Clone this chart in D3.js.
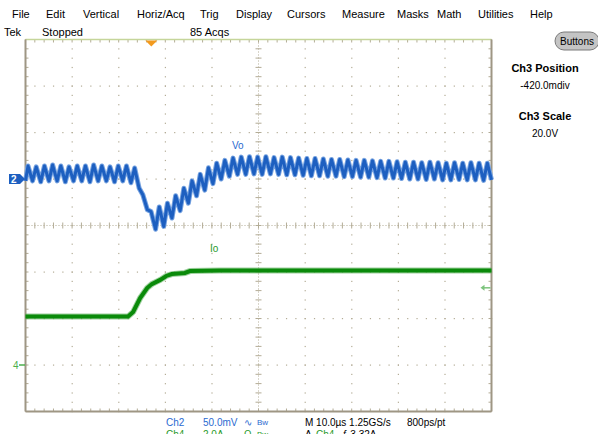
<!DOCTYPE html>
<html><head><meta charset="utf-8">
<script src="https://cdn.jsdelivr.net/npm/d3@7"></script>
<style>
html,body{margin:0;padding:0;background:#fff;overflow:hidden;}
svg{display:block;font-family:"Liberation Sans",Arial,sans-serif;}
</style></head><body>
<svg id="scope" width="598" height="434"></svg>
<script>
// ---- acquisition data ----
// Ch2 (Vo): ripple peak and trough of each switching cycle, mV about the Ch2 reference
const ripplePeriod = 1.76;   // µs
const rippleStart = 0.54;    // µs, first ripple peak
const voPeak = [14,13,14,15,14,13,14,14,15,14,13,14,14,
  11.8,-17,-35,-30,-26,-18,-10,-2,5,12,17,20,22.5,
  23.5,24,23.5,24,23,23.5,23,22.5,
  22,22,21.5,21,21,20.5,20,20,19.5,19,19,18.5,
  18,18,17.5,18,17.5,17,17.5,17,17.5,17,17];
const voTrough = [-2,-3,-2,-2,-3,-2,-2,-3,-2,-2,-3,-2,-4,
  -10,-33,-54,-51,-42,-34,-26,-18,-12,-5,0,3,5,
  5,5.5,5,5.5,5,4.5,4.5,4,
  3.5,3.5,3,3,2.5,2.5,2,2,1.5,1,1,0.5,
  0,0,-0.5,0,-1,-1,-0.5,-1,-1,-1.5,-1];
// Ch4 (Io): load current step, µs / A
const ioTime = [0,22.0,23.1,24.6,26.1,27.1,28.9,30.2,31.4,34.2,35.3,41.7,100];
const ioAmps = [2.09,2.09,2.28,2.88,3.31,3.48,3.66,3.83,3.91,3.96,4.04,4.06,4.06];

// ---- scope settings ----
const menuItems = ["File","Edit","Vertical","Horiz/Acq","Trig","Display","Cursors","Measure","Masks","Math","Utilities","Help"];
const menuX = [12,46,83,137,200,236,287,342,397,437,478,530];
const ch2 = {scale:50, refDiv:1};     // mV/div, reference marker position (div)
const ch4 = {scale:2, refDiv:-3};     // A/div
const timePerDiv = 10;                // µs/div
const trigTime = 27.0;                // µs
const trigLevel = 3.32;               // A

const svg = d3.select("#scope");
const gx0 = 25.5, gx1 = 491.5, gy0 = 39.5, gy1 = 411.5;
const x = d3.scaleLinear().domain([0, 10*timePerDiv]).range([gx0, gx1]);
const yDiv = d3.scaleLinear().domain([-4, 4]).range([gy1, gy0]);
const y2 = v => yDiv(ch2.refDiv + v / ch2.scale);
const y4 = v => yDiv(ch4.refDiv + v / ch4.scale);

// menu bar
svg.append("g").selectAll("text").data(menuItems).join("text")
  .attr("x", (d,i) => menuX[i]).attr("y", 18)
  .attr("font-size", 11).attr("fill", "#000").text(d => d);

// status line
const status = svg.append("g").attr("font-size", 11).attr("fill", "#000");
status.append("text").attr("x", 4).attr("y", 36).text("Tek");
status.append("text").attr("x", 42).attr("y", 36).text("Stopped");
status.append("text").attr("x", 190).attr("y", 36).text("85 Acqs");

// graticule
const grid = svg.append("g");
const gridCol = "#b3ac96";
const minor = d3.range(0, 10*timePerDiv + 0.001, timePerDiv/5);
const minorDiv = d3.range(-4, 4.001, 0.2);
// dotted division lines
for (let i = 1; i < 10; i++) {
  if (i === 5) continue;
  minorDiv.forEach(v => grid.append("rect").attr("x", x(i*timePerDiv)-0.5).attr("y", yDiv(v)-0.5)
    .attr("width", 1.2).attr("height", 1.2).attr("fill", gridCol));
}
for (let j = -3; j <= 3; j++) {
  if (j === 0) continue;
  minor.forEach(t => grid.append("rect").attr("x", x(t)-0.5).attr("y", yDiv(j)-0.5)
    .attr("width", 1.2).attr("height", 1.2).attr("fill", gridCol));
}
// centre axes with minor ticks
grid.append("line").attr("x1", x(50)).attr("x2", x(50)).attr("y1", gy0).attr("y2", gy1)
  .attr("stroke", gridCol).attr("stroke-dasharray", "1,2");
grid.append("line").attr("x1", gx0).attr("x2", gx1).attr("y1", yDiv(0)).attr("y2", yDiv(0))
  .attr("stroke", gridCol).attr("stroke-dasharray", "1,2");
minorDiv.forEach(v => grid.append("line").attr("x1", x(50)-3).attr("x2", x(50)+3)
  .attr("y1", yDiv(v)).attr("y2", yDiv(v)).attr("stroke", gridCol));
minor.forEach(t => grid.append("line").attr("x1", x(t)).attr("x2", x(t))
  .attr("y1", yDiv(0)-3).attr("y2", yDiv(0)+3).attr("stroke", gridCol));
// edge ticks
minorDiv.forEach(v => {
  grid.append("line").attr("x1", gx0).attr("x2", gx0+3).attr("y1", yDiv(v)).attr("y2", yDiv(v)).attr("stroke", gridCol);
  grid.append("line").attr("x1", gx1-3).attr("x2", gx1).attr("y1", yDiv(v)).attr("y2", yDiv(v)).attr("stroke", gridCol);
});
minor.forEach(t => {
  grid.append("line").attr("x1", x(t)).attr("x2", x(t)).attr("y1", gy0).attr("y2", gy0+3).attr("stroke", gridCol);
  grid.append("line").attr("x1", x(t)).attr("x2", x(t)).attr("y1", gy1-3).attr("y2", gy1).attr("stroke", gridCol);
});
// frame
grid.append("line").attr("x1", gx0).attr("x2", gx1).attr("y1", gy0).attr("y2", gy0).attr("stroke", "#c5d59a").attr("stroke-width", 1.5);
grid.append("line").attr("x1", gx0).attr("x2", gx0).attr("y1", gy0).attr("y2", gy1).attr("stroke", "#9e9684").attr("stroke-width", 2);
grid.append("line").attr("x1", gx1).attr("x2", gx1).attr("y1", gy0).attr("y2", gy1).attr("stroke", "#9e9684").attr("stroke-width", 2);
grid.append("line").attr("x1", gx0).attr("x2", gx1).attr("y1", gy1).attr("y2", gy1).attr("stroke", "#9e9684").attr("stroke-width", 2);

// Ch4 waveform
const ioPts = ioTime.map((t,i) => [x(t), y4(ioAmps[i])]);
const line = d3.line();
svg.append("path").attr("d", line(ioPts)).attr("fill", "none")
  .attr("stroke", "#5fb35f").attr("stroke-width", 6).attr("opacity", 0.6);
svg.append("path").attr("d", line(ioPts)).attr("fill", "none")
  .attr("stroke", "#0a8a0a").attr("stroke-width", 4);

// Ch2 waveform
const voPts = [[x(0), y2(voTrough[0])]];
voPeak.forEach((p,k) => {
  const t = rippleStart + k*ripplePeriod;
  voPts.push([x(t), y2(p)]);
  voPts.push([x(Math.min(t + 0.55*ripplePeriod, 100)), y2(voTrough[k])]);
});
svg.append("path").attr("d", line(voPts)).attr("fill", "none")
  .attr("stroke", "#77a3e0").attr("stroke-width", 5).attr("stroke-linejoin", "round");
svg.append("path").attr("d", line(voPts)).attr("fill", "none")
  .attr("stroke", "#1d5fc0").attr("stroke-width", 3).attr("stroke-linejoin", "round");

// trace labels
svg.append("text").attr("x", 232).attr("y", 149).attr("font-size", 10).attr("fill", "#2a6ad0").text("Vo");
svg.append("text").attr("x", 210).attr("y", 252).attr("font-size", 10).attr("fill", "#2a9a2a").text("Io");

// channel reference markers
const m2 = yDiv(ch2.refDiv);
svg.append("path").attr("d", `M9,${m2-5}H20L25,${m2}L20,${m2+5}H9Z`).attr("fill", "#1d5fc0");
svg.append("text").attr("x", 11).attr("y", m2+4).attr("font-size", 10).attr("font-weight", "bold").attr("fill", "#fff").text("2");
const m4 = yDiv(ch4.refDiv);
svg.append("text").attr("x", 13).attr("y", m4+4).attr("font-size", 10).attr("fill", "#4caf4c").text("4");
svg.append("line").attr("x1", 19).attr("x2", 25).attr("y1", m4).attr("y2", m4).attr("stroke", "#4caf4c").attr("stroke-width", 1.5);

// trigger position and level markers
svg.append("path").attr("d", `M${x(trigTime)-6},${gy0+1}H${x(trigTime)+6}L${x(trigTime)},${gy0+7}Z`).attr("fill", "#f39a1e");
const tl = y4(trigLevel);
svg.append("path").attr("d", `M${gx1-11},${tl}L${gx1-7},${tl-3}V${tl+3}Z`).attr("fill", "#7cc47c");
svg.append("line").attr("x1", gx1-8).attr("x2", gx1-1).attr("y1", tl).attr("y2", tl).attr("stroke", "#7cc47c").attr("stroke-width", 1.5);

// side panel
svg.append("rect").attr("x", 555).attr("y", 32).attr("width", 44).attr("height", 18).attr("rx", 9)
  .attr("fill", "#c4c4c4").attr("stroke", "#7a7a7a");
svg.append("text").attr("x", 577).attr("y", 45).attr("text-anchor", "middle").attr("font-size", 10).text("Buttons");
const side = svg.append("g").attr("text-anchor", "middle").attr("fill", "#000");
side.append("text").attr("x", 545).attr("y", 72).attr("font-size", 11).attr("font-weight", "bold").text("Ch3 Position");
side.append("text").attr("x", 545).attr("y", 89).attr("font-size", 10).text("-420.0mdiv");
side.append("text").attr("x", 545).attr("y", 120).attr("font-size", 11).attr("font-weight", "bold").text("Ch3 Scale");
side.append("text").attr("x", 545).attr("y", 137).attr("font-size", 10).text("20.0V");

// readouts
const ro = svg.append("g").attr("font-size", 10);
ro.append("text").attr("x", 166).attr("y", 426).attr("fill", "#2a6ad0").text("Ch2");
ro.append("text").attr("x", 203).attr("y", 426).attr("fill", "#2a6ad0").text("50.0mV");
ro.append("text").attr("x", 244).attr("y", 426).attr("fill", "#2a6ad0").text("∿");
ro.append("text").attr("x", 257).attr("y", 425).attr("font-size", 8).attr("fill", "#2a6ad0").text("Bw");
ro.append("text").attr("x", 305).attr("y", 426).attr("fill", "#000").text("M 10.0µs 1.25GS/s");
ro.append("text").attr("x", 407).attr("y", 426).attr("fill", "#000").text("800ps/pt");
ro.append("text").attr("x", 166).attr("y", 438).attr("fill", "#2a9a2a").text("Ch4");
ro.append("text").attr("x", 203).attr("y", 438).attr("fill", "#2a9a2a").text("2.0A");
ro.append("text").attr("x", 244).attr("y", 438).attr("fill", "#2a9a2a").text("Ω");
ro.append("text").attr("x", 257).attr("y", 437).attr("font-size", 8).attr("fill", "#2a9a2a").text("Bw");
ro.append("text").attr("x", 305).attr("y", 438).attr("fill", "#000").text("A");
ro.append("text").attr("x", 316).attr("y", 438).attr("fill", "#2a9a2a").text("Ch4");
ro.append("text").attr("x", 342).attr("y", 438).attr("fill", "#000").text("ƒ  3.32A");
</script></body></html>
